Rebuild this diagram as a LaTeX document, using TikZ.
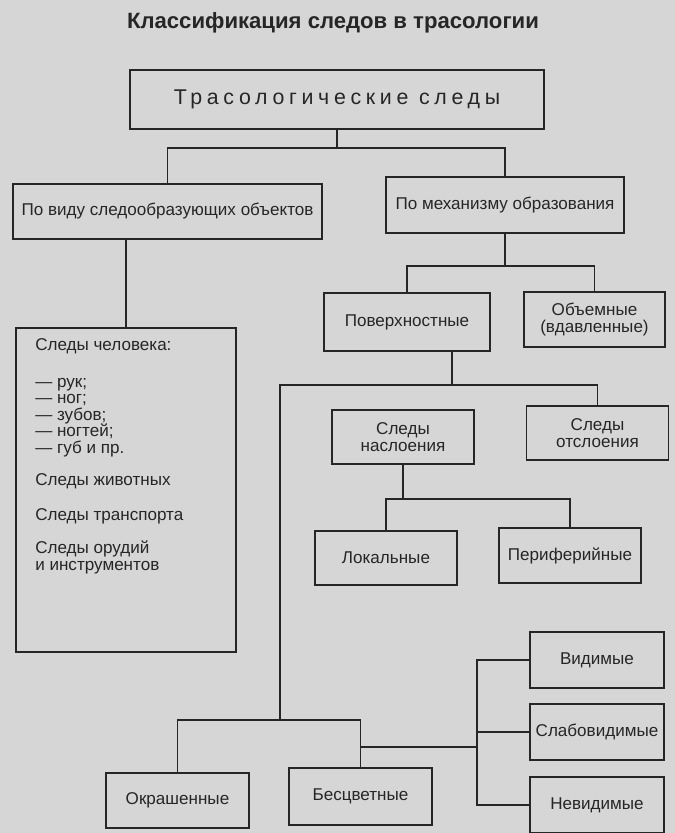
\documentclass[tikz,border=0pt]{standalone}
\usepackage{fontspec}
\setmainfont{Liberation Sans}
\usetikzlibrary{positioning, calc}
\definecolor{paper}{HTML}{D6D6D6}
\definecolor{ink}{HTML}{262626}

\begin{document}
\begin{tikzpicture}[
  x=0.75pt, y=-0.75pt,
  box/.style={rectangle,draw=ink,line width=1.3pt,text=ink,align=center,inner sep=0pt,
    minimum width=106.5pt,minimum height=41pt,font=\fontsize{12.8}{13.1}\selectfont},
  ttl/.style={text=ink,font=\fontsize{16.6}{20}\selectfont\bfseries},
  ln/.style={draw=ink,line width=1.3pt}
]
  \fill[paper] (0,0) rectangle (675,833);
  \useasboundingbox (0,0) rectangle (675,833);

  \node[ttl] (title) at (333,23) {Классификация следов в трасологии};
  \node[box,minimum width=310.5pt,minimum height=44.25pt,
        font=\fontsize{16}{18}\selectfont\addfontfeature{LetterSpace=22}] (main) at (337,99.5) {Трасологические следы};

  \node[box,minimum width=231.75pt,minimum height=41.25pt] (vid)  at (167.5,211.5) {По виду следообразующих объектов};
  \node[box,minimum width=178.5pt,minimum height=42pt]     (mech) at (505,205)     {По механизму образования};
  \node[box,minimum width=124.5pt,minimum height=43.5pt]   (pov)  at (407,322)     {Поверхностные};
  \node[box,minimum width=105.75pt,minimum height=41.25pt] (obj)  at (594.5,319.5) {Объемные\\(вдавленные)};
  \node[box,minimum width=165pt,minimum height=243pt]      (hum)  at (126,490)     {};
  \node[box] (nas)  at (403,437)   {Следы\\наслоения};
  \node[box] (otsl) at (597.5,433) {Следы\\отслоения};
  \node[box] (lok)  at (386,558)   {Локальные};
  \node[box] (per)  at (570,555.5) {Периферийные};
  \node[box,minimum width=100.5pt,minimum height=42pt] (vis)  at (597,660) {Видимые};
  \node[box,minimum width=100.5pt,minimum height=42pt] (slab) at (597,732) {Слабовидимые};
  \node[box,minimum width=100.5pt,minimum height=42pt] (nev)  at (597,805) {Невидимые};
  \node[box,minimum width=107.25pt] (okr) at (177.5,800.5) {Окрашенные};
  \node[box,minimum width=107.25pt,minimum height=42.75pt] (bes) at (360.5,796.5) {Бесцветные};

  % list inside the left box
  \node[anchor=north west,align=left,inner sep=0pt,text=ink,font=\fontsize{12.8}{12.4}\selectfont]
    (humtxt) at (35,338) {Следы человека:\\[15.4pt]
      — рук;\\ — ног;\\ — зубов;\\ — ногтей;\\ — губ и пр.\\[11.6pt]
      Следы животных\\[13.9pt]
      Следы транспорта\\[12.4pt]
      Следы орудий\\ и инструментов};

  % junctions
  \coordinate (bus1) at (280,385);
  \coordinate (bus2) at (280,720);
  \coordinate (bus3) at (477,747);

  \draw[ln] (main.south) -- ++(0,18) -| (vid.north);
  \draw[ln] (main.south) -- ++(0,18) -| (mech.north);
  \draw[ln] (hum.north) -- (hum.north |- vid.south);
  \draw[ln] (mech.south) -- ++(0,32) -| (pov.north);
  \draw[ln] (mech.south) -- ++(0,32) -| (obj.north);

  \draw[ln] ($(pov.south)+(45,0)$) |- (bus1) -- (bus2);
  \draw[ln] (bus1) -| (otsl.north);
  \draw[ln] ($(nas.north)+(-11,0)$) -- ($(nas.north)+(-11,0)$ |- bus1);
  \draw[ln] (nas.south) -- ++(0,34) -| (lok.north);
  \draw[ln] (nas.south) -- ++(0,34) -| (per.north);

  \draw[ln] (okr.north) |- (bus2) -| (bes.north);
  \draw[ln] (bes.north |- bus3) -- (bus3);
  \draw[ln] (vis.west) -| (bus3) |- (nev.west);
  \draw[ln] (slab.west) -- (slab.west -| bus3);
\end{tikzpicture}
\end{document}
